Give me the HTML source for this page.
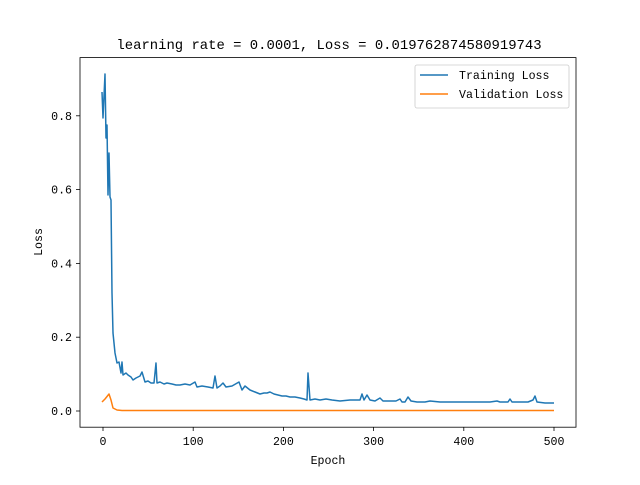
<!DOCTYPE html>
<html><head><style>
body{margin:0;background:#fff}
svg text{font-family:"Liberation Mono","WenQuanYi Zen Hei",monospace;fill:#000}
</style></head><body>
<svg width="640" height="480" xmlns="http://www.w3.org/2000/svg">
<rect width="640" height="480" fill="#fff"/>
<text x="329" y="49" font-size="13.9" text-anchor="middle">learning rate = 0.0001, Loss = 0.019762874580919743</text>
<g stroke="#000" stroke-width="0.8">
<line x1="103" y1="427.2" x2="103" y2="431"/>
<line x1="193.2" y1="427.2" x2="193.2" y2="431"/>
<line x1="283.4" y1="427.2" x2="283.4" y2="431"/>
<line x1="373.6" y1="427.2" x2="373.6" y2="431"/>
<line x1="463.8" y1="427.2" x2="463.8" y2="431"/>
<line x1="554" y1="427.2" x2="554" y2="431"/>
<line x1="76" y1="411" x2="80" y2="411"/>
<line x1="76" y1="337.2" x2="80" y2="337.2"/>
<line x1="76" y1="263.4" x2="80" y2="263.4"/>
<line x1="76" y1="189.6" x2="80" y2="189.6"/>
<line x1="76" y1="115.8" x2="80" y2="115.8"/>
</g>
<g font-size="11.6" text-anchor="middle">
<text x="103" y="445">0</text><text x="193.2" y="445">100</text><text x="283.4" y="445">200</text>
<text x="373.6" y="445">300</text><text x="463.8" y="445">400</text><text x="554" y="445">500</text>
<text x="328" y="464">Epoch</text>
</g>
<g font-size="11.6" text-anchor="end">
<text x="72" y="415">0.0</text><text x="72" y="341">0.2</text><text x="72" y="267.5">0.4</text>
<text x="72" y="193.7">0.6</text><text x="72" y="120">0.8</text>
</g>
<text transform="translate(42,242) rotate(-90)" font-size="11.6" text-anchor="middle">Loss</text>
<polyline fill="none" stroke="#1f77b4" stroke-width="1.5" stroke-linejoin="round" points="102,92 103,118 105,74 106,138 107,125 108,195 109,153 110,197 111,200 112,293 113,333 115,353 117,363 119,362 121,373 122,362 123,375 126,373 128,375 131,377 133,380 136,378 140,376 142,372 145,382 148,381 151,383 154,383 156,363 157,383 160,382 164,384 167,383 172,384 176,385 180,385 185,384 190,385 195,382 197,387 202,386 208,387 213,388 215,376 217,388 220,386 223,383 226,387 232,386 239,382 242,390 245,386 250,390 255,392 260,394 264,393 267,393 270,392 274,394 278,395 282,396 286,396 290,397 295,397 300,398 304,399 307,400 308,373 310,400 315,399 320,400 326,399 332,400 340,401 350,400 356,400 360,400 362,394 364,400 367,395 370,400 375,401 380,398 383,401 390,401 396,401 400,399 402,402 405,402 408,397 411,401 417,402 425,402 430,401 440,402 450,402 460,402 470,402 480,402 490,402 497,401 500,402 508,402 510,399 512,402 520,402 528,402 533,400 535,396 537,402 545,403 554,403"/>
<polyline fill="none" stroke="#ff7f0e" stroke-width="1.5" stroke-linejoin="round" points="102,402 105,399 109,394 111,400 113,408 117,410 122,410.5 554,410.5"/>
<rect x="80" y="57.6" width="496" height="369.6" fill="none" stroke="#000" stroke-width="0.8"/>
<rect x="415" y="65" width="154" height="43" rx="2" fill="#fff" fill-opacity="0.8" stroke="#ccc" stroke-width="0.8"/>
<line x1="420" y1="75" x2="448" y2="75" stroke="#1f77b4" stroke-width="1.5"/>
<line x1="420" y1="94" x2="448" y2="94" stroke="#ff7f0e" stroke-width="1.5"/>
<g font-size="11.6"><text x="459" y="79">Training Loss</text><text x="459" y="98">Validation Loss</text></g>
</svg>
</body></html>
